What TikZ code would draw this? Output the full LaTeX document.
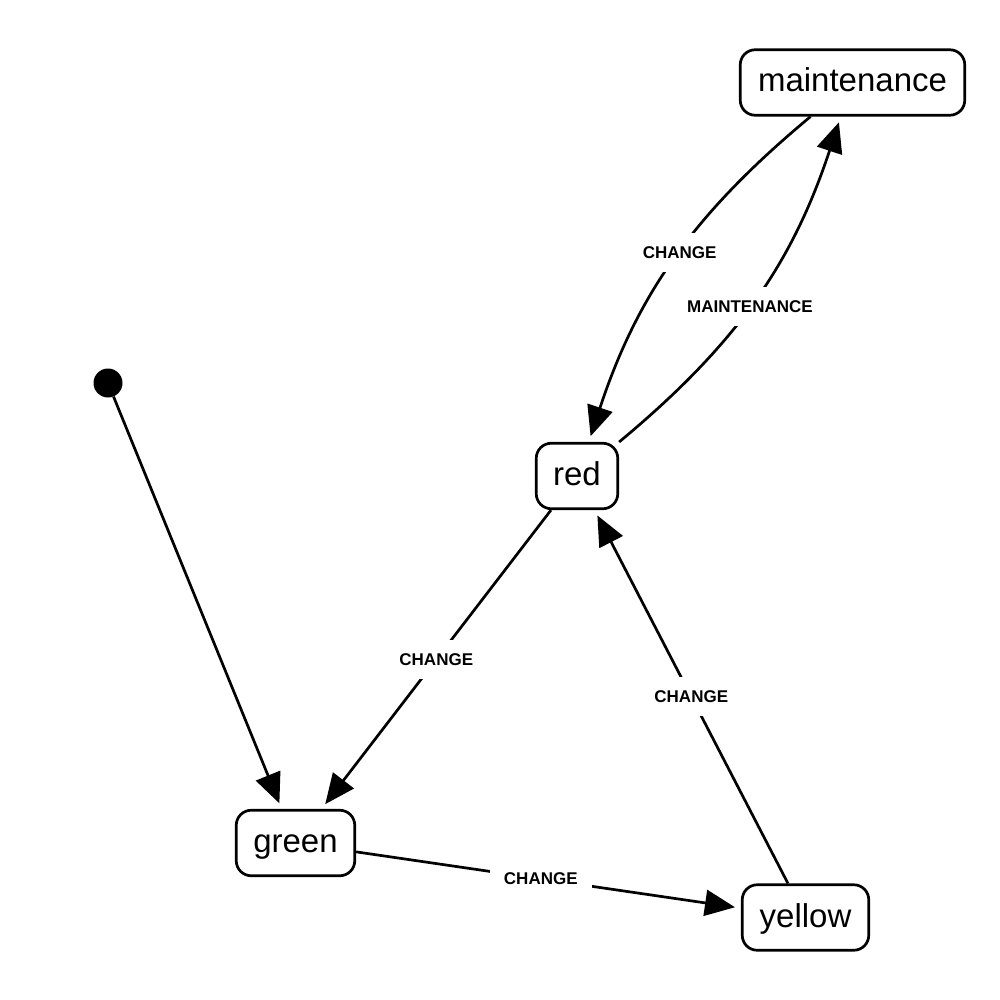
\documentclass[tikz,border=0pt]{standalone}
\usepackage{fontspec}
\setmainfont{Liberation Sans}
\usetikzlibrary{arrows.meta}
\begin{document}
\begin{tikzpicture}[x=1pt,y=1pt,
  state/.style={draw=black, line width=2.7pt, rounded corners=15pt, fill=white,
    minimum height=65.5pt, font=\fontsize{33}{40}\selectfont,
    text height=23pt, text depth=4pt, inner sep=0pt},
  initdot/.style={circle, fill=black, minimum size=29pt, inner sep=0pt},
  edge/.style={line width=2.7pt, -{Triangle[length=30pt,width=26pt]}, shorten >=6pt},
  elabel/.style={fill=white, font=\bfseries\fontsize{17}{20}\selectfont,
    inner xsep=14pt, inner ysep=13pt, text height=12.5pt, text depth=0.5pt}]
\useasboundingbox (0,0) rectangle (1000,-1000);
\node[state, minimum width=224.5pt] (maint) at (852.5,-82.5) {maintenance};
\node[state, minimum width=81.5pt] (red) at (577,-476) {red};
\node[state, minimum width=118.5pt] (green) at (295.5,-843) {green};
\node[state, minimum width=126.5pt] (yellow) at (805.5,-917.5) {yellow};
\node[initdot] (init) at (108,-383) {};
\draw[edge] (init) -- (green);
\draw[edge] (red) -- node[elabel] {CHANGE} (green);
\draw[edge] (green) -- node[elabel, pos=0.48] {CHANGE} (yellow);
\draw[edge] (yellow) -- node[elabel] {CHANGE} (red);
\draw[edge] (maint) to[bend right=16] node[elabel, pos=0.47] {CHANGE} (red);
\draw[edge] (red) to[bend right=16] node[elabel, pos=0.47] {MAINTENANCE} (maint);
\end{tikzpicture}
\end{document}
